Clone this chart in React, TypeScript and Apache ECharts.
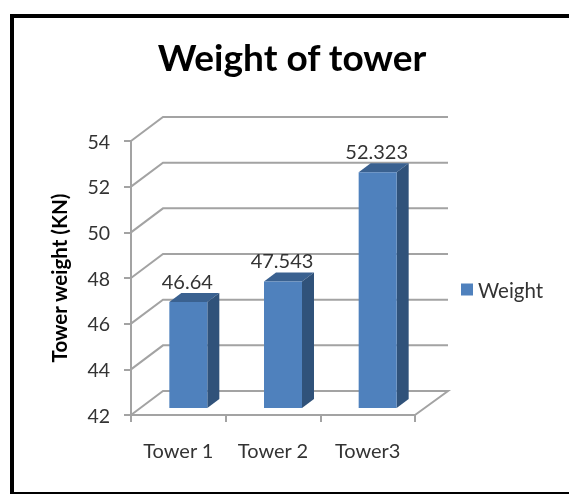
import React, { useEffect, useRef } from "react";
import * as echarts from "echarts";

const categories = ["Tower 1", "Tower 2", "Tower3"];
const weights = [46.64, 47.543, 52.323];
const weightLabels = ["46.64", "47.543", "52.323"];
const yTicks = [42, 44, 46, 48, 50, 52, 54];

const FONT = "Lato";
const WALL_DX = 32;
const WALL_DY = 24;
const BAR_DX = 10;
const BAR_DY = 7;
const BAR_W = 38;
const SIDE_DX = 12;
const SIDE_DY = 9;
const GREY = "#a3a3a3";

export default function App() {
  const ref = useRef<HTMLDivElement>(null);
  useEffect(() => {
    const chart = echarts.init(ref.current!, undefined, { renderer: "svg" });
    chart.setOption({
      animation: false,
      backgroundColor: "#ffffff",
      title: {
        text: "Weight of tower",
        left: 287,
        top: 33,
        textAlign: "center",
        textStyle: { fontFamily: FONT, fontSize: 37, fontWeight: "bold", color: "#000000" },
      },
      legend: {
        data: [{ name: "Weight", icon: "rect", itemStyle: { color: "#4f81bd" } }],
        left: 461,
        top: 279,
        padding: 0,
        itemWidth: 12,
        itemHeight: 12,
        itemGap: 6,
        textStyle: { fontFamily: FONT, fontSize: 20.5, color: "#333333" },
      },
      grid: { left: 131, top: 141, width: 284, height: 274 },
      xAxis: {
        type: "category",
        data: categories,
        axisLine: { lineStyle: { color: GREY, width: 2 } },
        axisTick: { show: true, length: 7, lineStyle: { color: GREY, width: 2 } },
        axisLabel: { fontFamily: FONT, fontSize: 20, color: "#333333", margin: 25 },
      },
      yAxis: {
        type: "value",
        min: 42,
        max: 54,
        interval: 2,
        name: "Tower weight (KN)",
        nameLocation: "middle",
        nameGap: 62,
        nameTextStyle: { fontFamily: FONT, fontSize: 20.5, fontWeight: "bold", color: "#000000" },
        splitLine: { show: false },
        axisLine: { show: true, lineStyle: { color: GREY, width: 2 } },
        axisTick: { show: true, length: 7, lineStyle: { color: GREY, width: 2 } },
        axisLabel: { fontFamily: FONT, fontSize: 19.5, color: "#333333", margin: 21 },
      },
      series: [
        {
          type: "custom",
          silent: true,
          clip: false,
          z: 1,
          data: yTicks.map((t) => [0, t]),
          renderItem: (params: any, api: any) => {
            const cs = params.coordSys;
            const y = api.coord([0, api.value(1)])[1];
            const x0 = cs.x;
            const x1 = cs.x + cs.width;
            const style = { stroke: GREY, lineWidth: 2, fill: "none" };
            const pts = [
              [x0, y],
              [x0 + WALL_DX, y - WALL_DY],
              [x1 + WALL_DX + 1, y - WALL_DY],
            ];
            if (params.dataIndex === 0) pts.push([x1, y]);
            return { type: "polyline", shape: { points: pts }, style };
          },
        },
        {
          type: "custom",
          name: "Weight",
          silent: true,
          clip: false,
          z: 3,
          itemStyle: { color: "#4f81bd" },
          data: weights.map((v, i) => [i, v]),
          renderItem: (params: any, api: any) => {
            const i = api.value(0);
            const [cx, top0] = api.coord([i, api.value(1)]);
            const [, base0] = api.coord([i, 42]);
            const left = cx - BAR_W / 2 + BAR_DX;
            const right = left + BAR_W;
            const top = top0 - BAR_DY;
            const base = base0 - BAR_DY;
            return {
              type: "group",
              children: [
                {
                  type: "polygon",
                  shape: { points: [[left, top], [right, top], [right + SIDE_DX, top - SIDE_DY], [left + SIDE_DX, top - SIDE_DY]] },
                  style: { fill: "#3a6190" },
                },
                {
                  type: "polygon",
                  shape: { points: [[right, top], [right + SIDE_DX, top - SIDE_DY], [right + SIDE_DX, base - SIDE_DY], [right, base]] },
                  style: { fill: "#30527a" },
                },
                {
                  type: "rect",
                  shape: { x: left, y: top, width: BAR_W, height: base - top },
                  style: { fill: "#4f81bd" },
                },
                {
                  type: "text",
                  style: {
                    text: weightLabels[i],
                    x: left + BAR_W / 2 - 1,
                    y: top - 21,
                    align: "center",
                    verticalAlign: "middle",
                    fontFamily: FONT,
                    fontSize: 20,
                    fill: "#333333",
                  },
                },
              ],
            };
          },
        },
      ],
      graphic: [
        {
          type: "rect",
          silent: true,
          shape: { x: 12, y: 16, width: 600, height: 478 },
          style: { fill: "none", stroke: "#000000", lineWidth: 4 },
        },
      ],
    });
    return () => chart.dispose();
  }, []);
  return (
    <div
      ref={ref}
      style={{ position: "fixed", left: 0, top: 0, width: 569, height: 494, filter: "blur(0.4px)" }}
    />
  );
}
